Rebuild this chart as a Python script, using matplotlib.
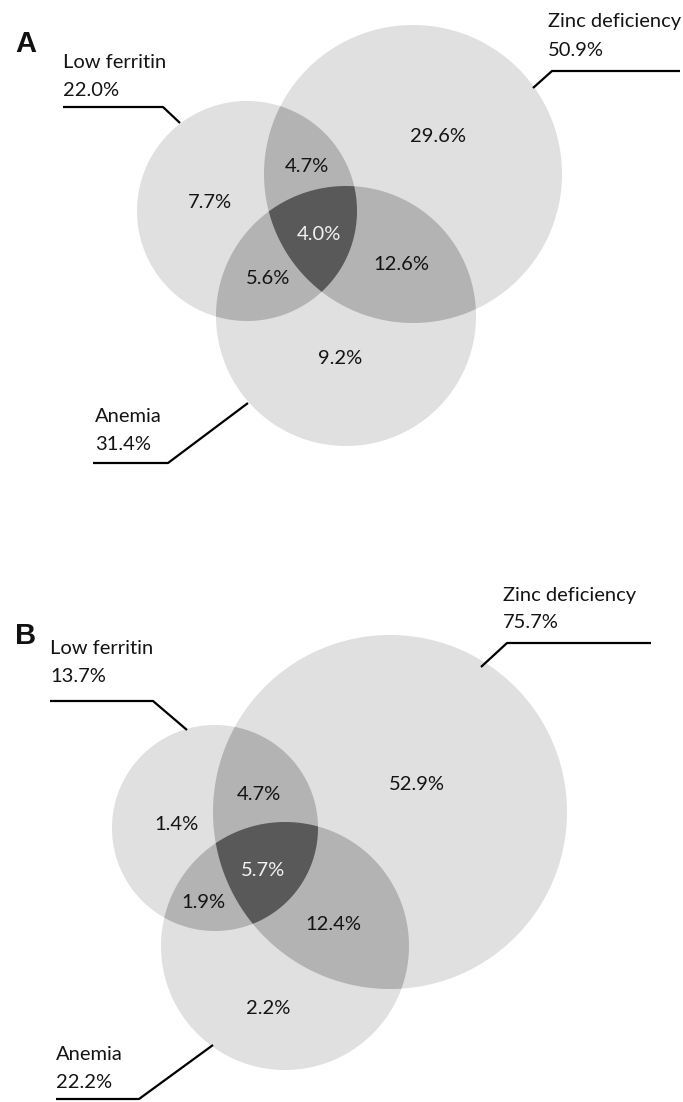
import numpy as np
import matplotlib
matplotlib.use('Agg')
import matplotlib.pyplot as plt
from matplotlib.patches import Polygon

# sets and values
set_names = ['Low ferritin', 'Zinc deficiency', 'Anemia']
totals_a = [22.0, 50.9, 31.4]
totals_b = [13.7, 75.7, 22.2]
# region order: F only, Z only, A only, F&Z, F&A, Z&A, all three
regions = ['F', 'Z', 'A', 'FZ', 'FA', 'ZA', 'FZA']
values_a = [7.7, 29.6, 9.2, 4.7, 5.6, 12.6, 4.0]
values_b = [1.4, 52.9, 2.2, 4.7, 1.9, 12.4, 5.7]

# layout (pixels of the 683x1102 image)
layout_a = {
    'letter': ('A', 15, 44),
    'circles': [(247, 211, 110), (413, 174, 149), (346, 316, 130)],
    'region_xy': [(210, 203), (438, 137), (340, 358), (307, 167),
                  (268, 279), (401, 264), (319, 234)],
    'label_xy': [(63, 62), (548, 22), (95, 417)],
    'leaders': [[(63, 107), (163, 107), (180, 123)],
                [(680, 71), (552, 71), (533, 88)],
                [(93, 463), (168, 463), (248, 403)]],
}
layout_b = {
    'letter': ('B', 15, 636),
    'circles': [(215, 828, 103), (390, 812, 177), (285, 946, 124)],
    'region_xy': [(176, 825), (417, 785), (268, 1008), (259, 795),
                  (203, 902), (333, 925), (263, 870)],
    'label_xy': [(50, 649), (503, 595), (56, 1055)],
    'leaders': [[(50, 701), (153, 701), (187, 730)],
                [(651, 643), (507, 643), (481, 667)],
                [(56, 1099), (139, 1099), (213, 1045)]],
}

c_one = '#e0e0e0'
c_two = '#b3b3b3'
c_three = '#595959'
font = 'Lato'
fs = 14.5


def circle_poly(cx, cy, r, n=400):
    t = np.linspace(0, 2 * np.pi, n, endpoint=False)
    return np.column_stack([cx + r * np.cos(t), cy + r * np.sin(t)])


# Sutherland-Hodgman clipping (clipper is convex, CCW)
def clip(subject, clipper):
    out = list(subject)
    for i in range(len(clipper)):
        a = clipper[i]
        b = clipper[(i + 1) % len(clipper)]
        inp = out
        out = []
        if not inp:
            break

        def side(p):
            return (b[0] - a[0]) * (p[1] - a[1]) - (b[1] - a[1]) * (p[0] - a[0])

        def inter(p, q):
            d1, d2 = side(p), side(q)
            s = d1 / (d1 - d2)
            return (p[0] + s * (q[0] - p[0]), p[1] + s * (q[1] - p[1]))

        s = inp[-1]
        for e in inp:
            if side(e) >= 0:
                if side(s) < 0:
                    out.append(inter(s, e))
                out.append(e)
            elif side(s) >= 0:
                out.append(inter(s, e))
            s = e
    return np.array(out)


def draw_panel(ax, lay, totals, values):
    polys = [circle_poly(*c) for c in lay['circles']]
    for p in polys:
        ax.add_patch(Polygon(p, closed=True, facecolor=c_one, edgecolor='none'))
    for i, j in [(0, 1), (0, 2), (1, 2)]:
        ax.add_patch(Polygon(clip(polys[i], polys[j]), closed=True,
                             facecolor=c_two, edgecolor='none'))
    tri = clip(clip(polys[0], polys[1]), polys[2])
    ax.add_patch(Polygon(tri, closed=True, facecolor=c_three, edgecolor='none'))

    for k, (x, y) in enumerate(lay['region_xy']):
        col = '#f2f2f2' if regions[k] == 'FZA' else '#141414'
        ax.text(x, y, f'{values[k]:.1f}%', ha='center', va='center',
                fontsize=fs, color=col, family=font)

    for k, (x, y) in enumerate(lay['label_xy']):
        ax.text(x, y, set_names[k], ha='left', va='center', fontsize=fs,
                color='#141414', family=font)
        ax.text(x, y + 28, f'{totals[k]:.1f}%', ha='left', va='center',
                fontsize=fs, color='#141414', family=font)

    for line in lay['leaders']:
        xs, ys = zip(*line)
        ax.plot(xs, ys, color='black', lw=1.6, solid_capstyle='butt')

    letter, lx, ly = lay['letter']
    ax.text(lx, ly, letter, ha='left', va='center', fontsize=21,
            fontweight='bold', family='Liberation Sans', color='#111111')


fig = plt.figure(figsize=(6.83, 11.02), dpi=100)
ax = fig.add_axes([0, 0, 1, 1])
ax.set_xlim(0, 683)
ax.set_ylim(1102, 0)
ax.set_aspect('equal')
ax.axis('off')

draw_panel(ax, layout_a, totals_a, values_a)
draw_panel(ax, layout_b, totals_b, values_b)

fig.savefig('out.png', dpi=100, facecolor='white')
